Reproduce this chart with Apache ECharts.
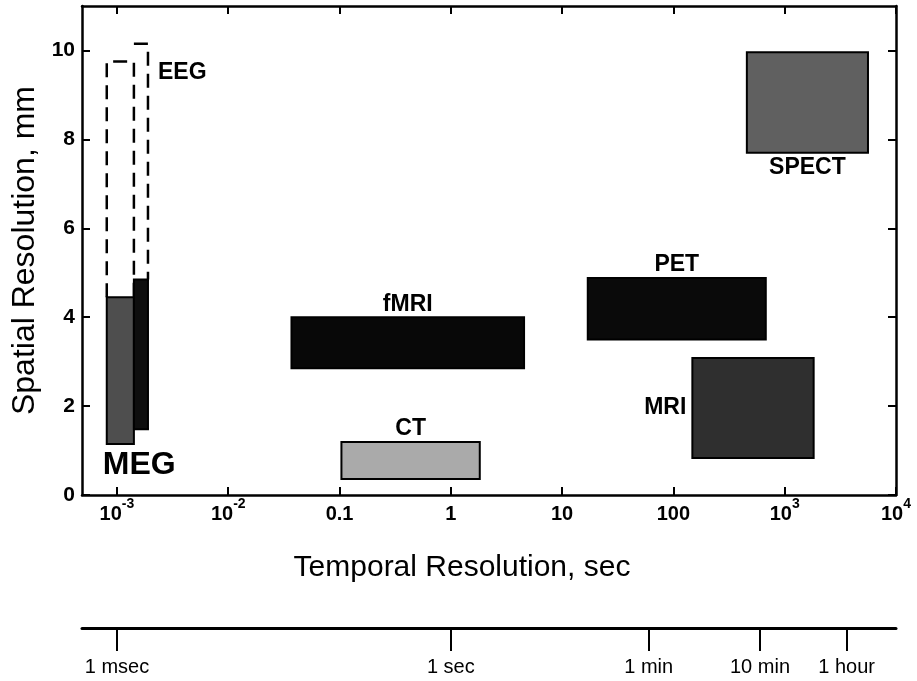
<!DOCTYPE html>
<html>
<head>
<meta charset="utf-8">
<script src="https://cdn.jsdelivr.net/npm/echarts@6/dist/echarts.min.js"></script>
<style>
  html, body { margin: 0; padding: 0; background: #fff; }
  #chart { width: 917px; height: 681px; }
</style>
</head>
<body>
<div id="chart"></div>
<script>
// imaging techniques: temporal range (sec) and spatial range (mm)
const labels  = ['MEG', '', 'fMRI', 'CT', 'PET', 'MRI', 'SPECT'];
const tempMin = [0.00081, 0.00142, 0.037, 0.104, 17, 148, 457];
const tempMax = [0.00142, 0.0019, 4.55, 1.82, 676, 1820, 5600];
const spatMin = [1.15, 1.48, 2.85, 0.36, 3.5, 0.83, 7.7];
const spatMax = [4.45, 4.85, 4.0, 1.19, 4.88, 3.08, 9.96];

// EEG (dashed outlines above MEG)
const eegLabels  = ['', 'EEG'];
const eegTempMin = [0.00081, 0.00142];
const eegTempMax = [0.00142, 0.0019];
const eegSpatMin = [4.45, 4.85];
const eegSpatMax = [9.75, 10.15];

// axes
const xTicks = [0.001, 0.01, 0.1, 1, 10, 100, 1000, 10000];
const xTickLabels = ['10^-3', '10^-2', '0.1', '1', '10', '100', '10^3', '10^4'];
const yTicks = [0, 2, 4, 6, 8, 10];
const timeTicks = [0.001, 1, 60, 600, 3600];
const timeLabels = ['1 msec', '1 sec', '1 min', '10 min', '1 hour'];

const X_MIN = -3.314, X_MAX = 4;
const FONT = '"Liberation Sans", Arial, sans-serif';

const fills = ['#4e4e4e', '#0e0e0e', '#080808', '#aaaaaa', '#0a0a0a', '#2f2f2f', '#606060'];
const labelPlace = ['belowLeft', null, 'top', 'top', 'top', 'left', 'bottom'];

const lg = v => Math.log10(v);
const xTickLogs = xTicks.map(lg);
const timeTickLogs = timeTicks.map(lg);

function pick(list, labelsArr, v) {
  const i = list.findIndex(t => Math.abs(t - v) < 1e-6);
  return i >= 0 ? labelsArr[i] : '';
}

function xFmt(v) {
  const s = pick(xTickLogs, xTickLabels, v);
  if (s.indexOf('^') >= 0) {
    const [b, e] = s.split('^');
    return '{b|' + b + '}{s|' + e + '}';
  }
  return '{b|' + s + '}';
}

function labelEl(text, place, x0, x1, yt, yb) {
  let x, y, align = 'center', size = 23;
  if (place === 'belowLeft') { x = x0 - 4; y = yb + 21; align = 'left'; size = 32; }
  else if (place === 'top') { x = (x0 + x1) / 2; y = yt - 13; }
  else if (place === 'bottom') { x = (x0 + x1) / 2; y = yb + 15; }
  else if (place === 'left') { x = x0 - 6; y = (yt + yb) / 2; align = 'right'; }
  else if (place === 'right') { x = x1 + 10; y = yt + 29; align = 'left'; }
  return {
    type: 'text', x: x, y: y,
    style: { text: text, fill: '#000', fontSize: size, fontWeight: 'bold', fontFamily: FONT, align: align, verticalAlign: 'middle' }
  };
}

function renderBox(params, api) {
  const i = params.dataIndex;
  const p0 = api.coord([api.value(0), api.value(3)]);
  const p1 = api.coord([api.value(1), api.value(2)]);
  const children = [{
    type: 'rect',
    shape: { x: p0[0], y: p0[1], width: p1[0] - p0[0], height: p1[1] - p0[1] },
    style: { fill: fills[i], stroke: '#000', lineWidth: 2 }
  }];
  if (labels[i]) children.push(labelEl(labels[i], labelPlace[i], p0[0], p1[0], p0[1], p1[1]));
  return { type: 'group', children: children };
}

function renderEeg(params, api) {
  const i = params.dataIndex;
  const p0 = api.coord([api.value(0), api.value(3)]);
  const p1 = api.coord([api.value(1), api.value(2)]);
  const pts = i === 0
    ? [[p0[0], p1[1]], [p0[0], p0[1]], [p1[0], p0[1]], [p1[0], p1[1]]]
    : [[p0[0], p0[1]], [p1[0], p0[1]], [p1[0], p1[1]]];
  const children = [{
    type: 'polyline',
    shape: { points: pts },
    style: { fill: null, stroke: '#000', lineWidth: 2.5, lineDash: [14, 8] }
  }];
  if (eegLabels[i]) children.push(labelEl(eegLabels[i], 'right', p0[0], p1[0], p0[1], p1[1]));
  return { type: 'group', children: children };
}

const boxData = labels.map((_, i) => [lg(tempMin[i]), lg(tempMax[i]), spatMin[i], spatMax[i]]);
const eegData = eegLabels.map((_, i) => [lg(eegTempMin[i]), lg(eegTempMax[i]), eegSpatMin[i], eegSpatMax[i]]);

const axisLine = { show: true, onZero: false, lineStyle: { color: '#000', width: 2.5 } };
const tickStyle = { color: '#000', width: 2 };

const chart = echarts.init(document.getElementById('chart'), null, { renderer: 'canvas' });
chart.setOption({
  backgroundColor: '#fff',
  animation: false,
  grid: [
    { left: 82, right: 21, top: 6, bottom: 186 },
    { left: 82, right: 21, top: 627, height: 1 }
  ],
  xAxis: [
    {
      gridIndex: 0, type: 'value', min: X_MIN, max: X_MAX, position: 'bottom',
      axisLine: axisLine,
      axisTick: { inside: true, length: 8, lineStyle: tickStyle, customValues: xTickLogs },
      axisLabel: {
        customValues: xTickLogs, formatter: xFmt, margin: 2,
        rich: {
          b: { fontSize: 20, fontWeight: 'bold', fontFamily: FONT, color: '#000', lineHeight: 27, verticalAlign: 'bottom' },
          s: { fontSize: 14, fontWeight: 'bold', fontFamily: FONT, color: '#000', lineHeight: 19, verticalAlign: 'top' }
        }
      },
      splitLine: { show: false },
      name: 'Temporal Resolution, sec', nameLocation: 'middle', nameGap: 58,
      nameTextStyle: { fontSize: 30, fontFamily: FONT, color: '#000', padding: [0, 54, 0, 0] }
    },
    {
      gridIndex: 0, type: 'value', min: X_MIN, max: X_MAX, position: 'top',
      axisLine: axisLine,
      axisTick: { inside: true, length: 8, lineStyle: tickStyle, customValues: xTickLogs },
      axisLabel: { show: false },
      splitLine: { show: false }
    },
    {
      gridIndex: 1, type: 'value', min: X_MIN, max: X_MAX, position: 'bottom',
      axisLine: { show: true, onZero: false, lineStyle: { color: '#000', width: 3 } },
      axisTick: { length: 23, lineStyle: tickStyle, customValues: timeTickLogs },
      axisLabel: {
        customValues: timeTickLogs, margin: 29,
        formatter: v => pick(timeTickLogs, timeLabels, v),
        fontSize: 20, fontFamily: FONT, color: '#000'
      },
      splitLine: { show: false }
    }
  ],
  yAxis: [
    {
      gridIndex: 0, type: 'value', min: 0, max: 11, position: 'left',
      axisLine: axisLine,
      axisTick: { inside: true, length: 8, lineStyle: tickStyle, customValues: yTicks },
      axisLabel: { customValues: yTicks, margin: 7, fontSize: 21, fontWeight: 'bold', fontFamily: FONT, color: '#000' },
      splitLine: { show: false },
      name: 'Spatial Resolution, mm', nameLocation: 'middle', nameGap: 36,
      nameTextStyle: { fontSize: 32, fontFamily: FONT, color: '#000' }
    },
    {
      gridIndex: 0, type: 'value', min: 0, max: 11, position: 'right',
      axisLine: axisLine,
      axisTick: { inside: true, length: 8, lineStyle: tickStyle, customValues: yTicks },
      axisLabel: { show: false },
      splitLine: { show: false }
    },
    { gridIndex: 1, type: 'value', show: false }
  ],
  series: [
    {
      type: 'custom', name: 'EEG', xAxisIndex: 0, yAxisIndex: 0,
      renderItem: renderEeg, data: eegData, encode: { x: [0, 1], y: [2, 3] }, clip: false
    },
    {
      type: 'custom', name: 'techniques', xAxisIndex: 0, yAxisIndex: 0,
      renderItem: renderBox, data: boxData, encode: { x: [0, 1], y: [2, 3] }, clip: false
    }
  ]
});
</script>
</body>
</html>
